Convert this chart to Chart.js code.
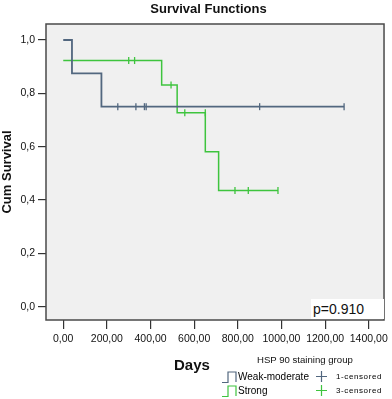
<!DOCTYPE html>
<html>
<head>
<meta charset="utf-8">
<script src="https://cdn.jsdelivr.net/npm/chart.js@4.4.0/dist/chart.umd.min.js"></script>
<style>
  body { margin: 0; background: #fff; font-family: 'Liberation Sans', Arial, sans-serif; }
  #wrap { position: relative; width: 392px; height: 399px; }
  .lbl { position: absolute; white-space: nowrap; color: #111; }
  #title { left: 0; width: 417px; top: 1px; text-align: center; font-weight: bold; font-size: 13px; }
  #days { left: 174px; top: 356px; font-weight: bold; font-size: 15px; }
  #pval { left: 311px; top: 299px; width: 73px; height: 20px; background: #fff; font-size: 14px; line-height: 20px; padding-left: 2px; box-sizing: border-box; }
  #legTitle { left: 257px; top: 354px; font-size: 9.6px; }
  .legRow { position: absolute; left: 222px; height: 13px; font-size: 10px; line-height: 13px; }
  .legRow svg { vertical-align: top; }
  .cens { position: absolute; font-size: 8px; letter-spacing: 0.6px; line-height: 13px; }
</style>
</head>
<body>
<div id="wrap">
  <canvas id="km" width="392" height="399"></canvas>
  <div class="lbl" id="title">Survival Functions</div>
  <div class="lbl" id="days">Days</div>
  <div class="lbl" id="pval">p=0.910</div>
  <div class="lbl" id="legTitle">HSP 90 staining group</div>
  <div class="legRow" style="top:370px">
    <svg width="16" height="13"><polyline points="0,12.5 6,12.5 6,2 14,2 14,12" fill="none" stroke="#52677f" stroke-width="1.2"/></svg><span>Weak-moderate</span>
  </div>
  <div class="legRow" style="top:384px">
    <svg width="16" height="13"><polyline points="0,12.5 6,12.5 6,2 14,2 14,12" fill="none" stroke="#3ec43e" stroke-width="1.2"/></svg><span>Strong</span>
  </div>
  <div class="cens" style="left:316px; top:370px"><svg width="11" height="13"><path d="M0,6.5 H11 M5.5,1 V12" stroke="#52677f" stroke-width="1.2"/></svg></div>
  <div class="cens" style="left:336px; top:370px">1-censored</div>
  <div class="cens" style="left:316px; top:384px"><svg width="11" height="13"><path d="M0,6.5 H11 M5.5,1 V12" stroke="#3ec43e" stroke-width="1.2"/></svg></div>
  <div class="cens" style="left:336px; top:384px">3-censored</div>
</div>
<script>
// Kaplan-Meier steps
const weakTimes = [0, 40, 175, 1287];
const weakSurv = [1.0, 0.875, 0.75, 0.75];
const weakCensTimes = [250, 333, 372, 380, 900, 1287];
const weakCensSurv = [0.75, 0.75, 0.75, 0.75, 0.75, 0.75];

const strongTimes = [0, 451, 522, 651, 712, 984];
const strongSurv = [0.923, 0.831, 0.727, 0.581, 0.436, 0.436];
const strongCensTimes = [300, 327, 494, 557, 651, 787, 848, 984];
const strongCensSurv = [0.923, 0.923, 0.831, 0.727, 0.727, 0.436, 0.436, 0.436];

const xTicks = [0, 200, 400, 600, 800, 1000, 1200, 1400];
const yTicks = [0, 0.2, 0.4, 0.6, 0.8, 1.0];

const blue = '#52677f';
const green = '#3ec43e';

function pts(xs, ys) {
    return xs.map((x, i) => ({ x: x, y: ys[i] }));
}

Chart.defaults.font.family = "'Liberation Sans', Arial, sans-serif";
Chart.defaults.color = '#111';

// light gray plot panel with a dark frame
const panel = {
    id: 'panel',
    beforeDraw(chart) {
        const a = chart.chartArea, ctx = chart.ctx;
        ctx.save();
        ctx.fillStyle = '#f0f0f0';
        ctx.fillRect(a.left, a.top, a.right - a.left, a.bottom - a.top);
        ctx.restore();
    },
    afterDraw(chart) {
        const a = chart.chartArea, ctx = chart.ctx;
        ctx.save();
        ctx.strokeStyle = '#4a4a4a';
        ctx.lineWidth = 1.5;
        ctx.strokeRect(a.left, a.top, a.right - a.left, a.bottom - a.top);
        ctx.restore();
    }
};

const censMark = {
    type: 'scatter',
    pointStyle: 'line',
    rotation: 90,
    pointRadius: 3.5,
    pointBorderWidth: 1.3,
    showLine: false
};

new Chart(document.getElementById('km'), {
    type: 'line',
    data: {
        datasets: [
            { data: pts(weakTimes, weakSurv), borderColor: blue, borderWidth: 1.8, stepped: true, pointRadius: 0 },
            { data: pts(strongTimes, strongSurv), borderColor: green, borderWidth: 1.5, stepped: true, pointRadius: 0 },
            Object.assign({ data: pts(weakCensTimes, weakCensSurv), borderColor: blue, pointBorderColor: blue }, censMark),
            Object.assign({ data: pts(strongCensTimes, strongCensSurv), borderColor: green, pointBorderColor: green }, censMark)
        ]
    },
    options: {
        responsive: false,
        animation: false,
        layout: { padding: { top: 24, right: 6, left: 0, bottom: 0 } },
        plugins: { legend: { display: false }, tooltip: { enabled: false } },
        scales: {
            x: {
                type: 'linear',
                min: -79,
                max: 1470,
                afterBuildTicks: s => { s.ticks = xTicks.map(v => ({ value: v })); },
                afterFit: s => { s.height = 79; },
                ticks: {
                    padding: 4,
                    font: { size: 10.5 },
                    maxRotation: 0,
                    callback: v => v.toFixed(2).replace('.', ',')
                },
                grid: { drawOnChartArea: false, tickLength: 9, color: '#333', lineWidth: 1.2 },
                border: { display: false }
            },
            y: {
                min: -0.05,
                max: 1.06,
                afterBuildTicks: s => { s.ticks = yTicks.map(v => ({ value: v })); },
                afterFit: s => { s.width = 46; },
                ticks: {
                    padding: 3,
                    font: { size: 10.5 },
                    callback: v => v.toFixed(1).replace('.', ',')
                },
                grid: { drawOnChartArea: false, tickLength: 8, color: '#333', lineWidth: 1.2 },
                border: { display: false },
                title: { display: true, text: 'Cum Survival', font: { size: 13, weight: 'bold' }, padding: 0 }
            }
        }
    },
    plugins: [panel]
});
</script>
</body>
</html>
